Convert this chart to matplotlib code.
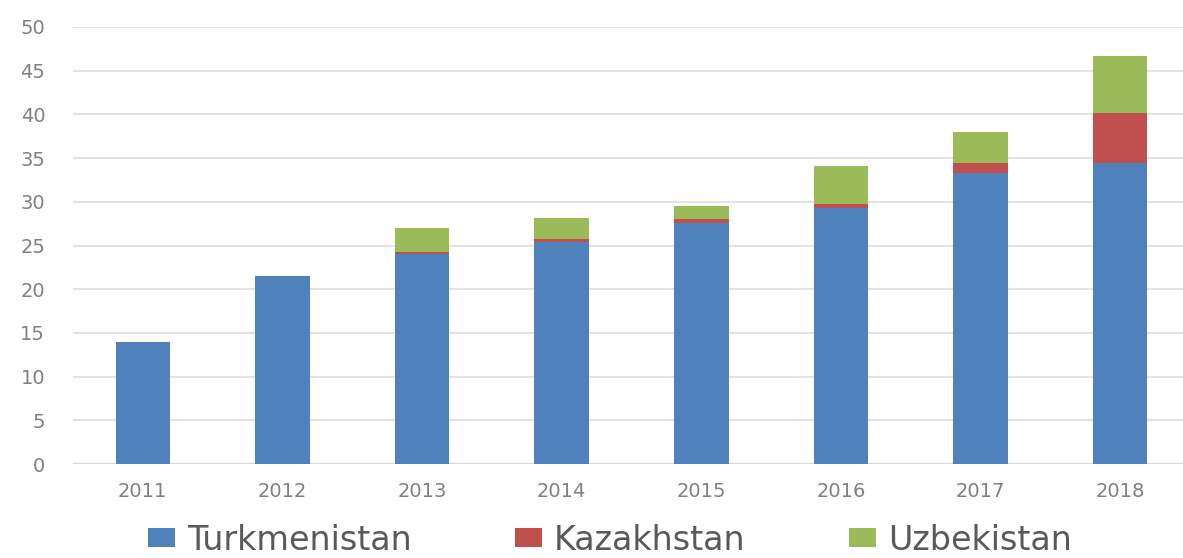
import matplotlib
matplotlib.use('Agg')
import matplotlib.pyplot as plt
import numpy as np

# --- data ---
years        = ['2011', '2012', '2013', '2014', '2015', '2016', '2017', '2018']
turkmenistan = [14.0, 21.5, 24.0, 25.4, 27.6, 29.3, 33.3, 34.4]
kazakhstan   = [0.0, 0.0, 0.3, 0.4, 0.4, 0.4, 1.1, 5.8]
uzbekistan   = [0.0, 0.0, 2.7, 2.4, 1.5, 4.4, 3.55, 6.5]
yticks       = [0, 5, 10, 15, 20, 25, 30, 35, 40, 45, 50]

c_blue, c_red, c_green = '#4F81BD', '#C0504D', '#9BBB59'
txt_grey = '#808080'

plt.rcParams['font.family'] = ['DejaVu Sans']

fig = plt.figure(figsize=(11.83, 5.58), dpi=100)
ax = fig.add_axes([73/1183, 94/558, 1110/1183, 437/558])

x = np.arange(len(years))
w = 0.39
tk = np.array(turkmenistan)
kz = np.array(kazakhstan)
uz = np.array(uzbekistan)

ax.bar(x, tk, width=w, color=c_blue, label='Turkmenistan', zorder=3)
ax.bar(x, kz, width=w, bottom=tk, color=c_red, label='Kazakhstan', zorder=3)
ax.bar(x, uz, width=w, bottom=tk + kz, color=c_green, label='Uzbekistan', zorder=3)

ax.set_xlim(-0.5, 7.45)
ax.set_ylim(0, 50)
ax.set_yticks(yticks)
ax.set_xticks(x)
ax.set_xticklabels(years)
ax.yaxis.grid(True, color='#E3E3E3', linewidth=1.5, zorder=0)
ax.tick_params(axis='both', length=0, labelcolor=txt_grey, labelsize=14)
ax.tick_params(axis='y', pad=20)
ax.tick_params(axis='x', pad=13)
for s in ax.spines.values():
    s.set_visible(False)
ax.axhline(0, color='#D9D9D9', linewidth=1.5, zorder=2)

leg = fig.legend(loc='center', bbox_to_anchor=(610/1183, 1 - 540/558), ncol=3,
                 frameon=False, fontsize=24, handlelength=0.8, handleheight=0.48,
                 handletextpad=0.37, columnspacing=3.1, borderpad=0)
for t in leg.get_texts():
    t.set_color('#595959')

plt.savefig('out.png', dpi=100)
